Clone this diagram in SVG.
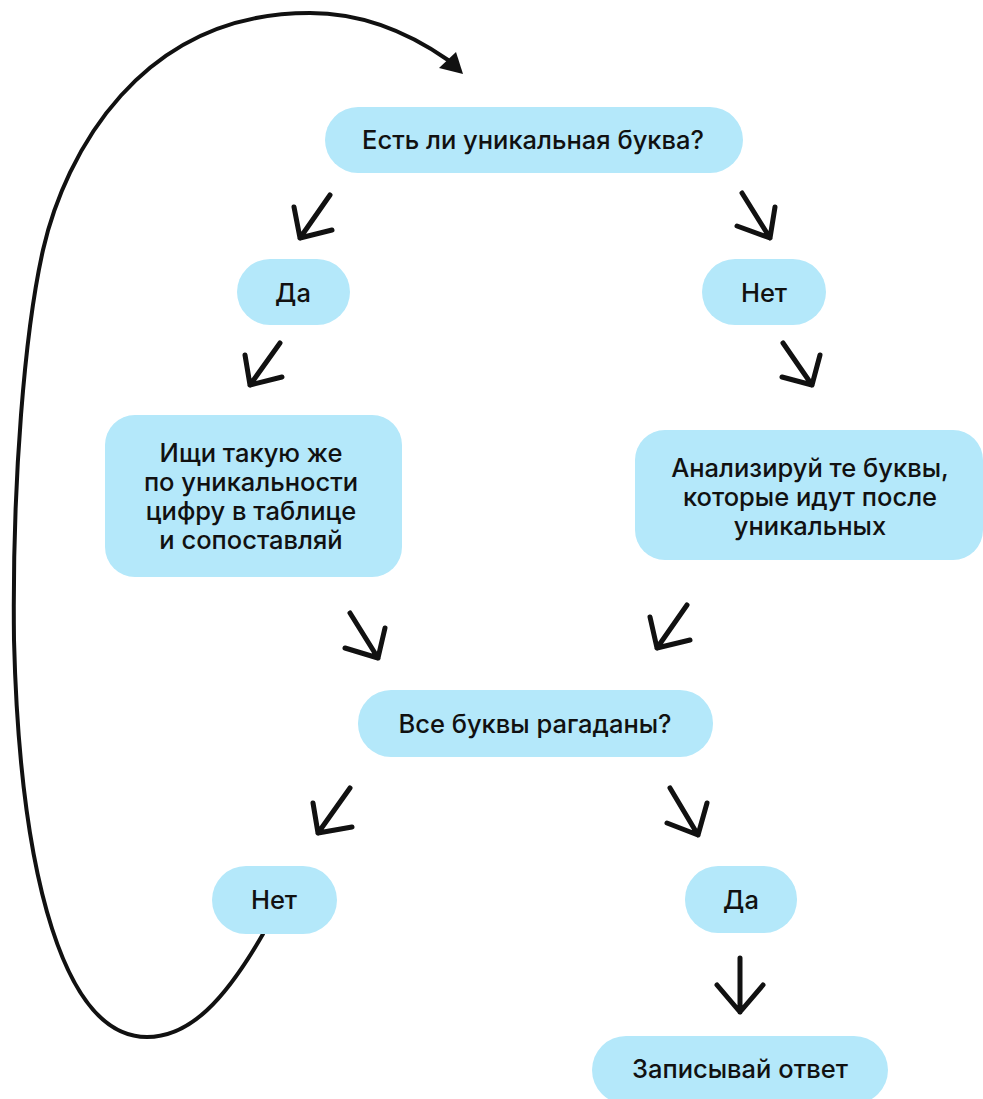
<svg xmlns="http://www.w3.org/2000/svg" width="983" height="1099" viewBox="0 0 983 1099">
<style>
.box{fill:#b4e8fa}
.t{font-family:Inter,"Liberation Sans","Noto Sans",sans-serif;font-size:25.5px;font-weight:500;fill:#111;text-anchor:middle}
.arr{fill:none;stroke:#111;stroke-width:5;stroke-linecap:round;stroke-linejoin:round}
.loop{fill:none;stroke:#111;stroke-width:4;stroke-linecap:round}
</style>
<rect width="983" height="1099" fill="#ffffff"/>
<g id="connectors">
<path class="loop" d="M263,934 C225,1000 190,1037 147,1037 C65,1037 20,880 14,640 C12,480 25,330 43,250 C65,154 140,13 310,13 C360,13 405,30 448,60"/>
<polygon points="456,52 439,68 463,74" fill="#111"/>
<path class="arr" d="M330,195 L300,238 M294,207 L300,238 L332,230"/>
<path class="arr" d="M742,193 L770,238 M737,226 L770,238 L775,207"/>
<path class="arr" d="M280,343 L250,385 M245,355 L250,385 L282,377"/>
<path class="arr" d="M783,343 L812,385 M782,377 L812,385 L820,355"/>
<path class="arr" d="M350,613 L378,658 M345,648 L378,658 L385,628"/>
<path class="arr" d="M687,605 L657,648 M650,617 L657,648 L690,640"/>
<path class="arr" d="M350,788 L318,833 M313,803 L318,833 L352,827"/>
<path class="arr" d="M670,788 L698,835 M667,823 L698,835 L707,803"/>
<path class="arr" d="M740,958 L740,1012 M717,985 L740,1012 L763,985"/>
</g>
<g id="n1"><rect class="box" x="325" y="107" width="418" height="66" rx="33"/><text class="t" x="533" y="149">Есть ли уникальная буква?</text></g>
<g id="n2"><rect class="box" x="237" y="259" width="113" height="66" rx="33"/><text class="t" x="293" y="302">Да</text></g>
<g id="n3"><rect class="box" x="702" y="259" width="124" height="66" rx="33"/><text class="t" x="764" y="302">Нет</text></g>
<g id="n4"><rect class="box" x="105" y="415" width="297" height="162" rx="30"/>
<text class="t" x="251" y="462">Ищи такую же</text>
<text class="t" x="251" y="491">по уникальности</text>
<text class="t" x="251" y="520">цифру в таблице</text>
<text class="t" x="251" y="549">и сопоставляй</text></g>
<g id="n5"><rect class="box" x="635" y="430" width="348" height="130" rx="30"/>
<text class="t" x="810" y="477">Анализируй те буквы,</text>
<text class="t" x="810" y="506">которые идут после</text>
<text class="t" x="810" y="535">уникальных</text></g>
<g id="n6"><rect class="box" x="358" y="690" width="355" height="67" rx="33"/><text class="t" x="535" y="733">Все буквы рагаданы?</text></g>
<g id="n7"><rect class="box" x="212" y="866" width="125" height="68" rx="34"/><text class="t" x="274" y="909">Нет</text></g>
<g id="n8"><rect class="box" x="685" y="866" width="112" height="67" rx="33"/><text class="t" x="741" y="909">Да</text></g>
<g id="n9"><rect class="box" x="592" y="1036" width="296" height="68" rx="34"/><text class="t" x="740" y="1078">Записывай ответ</text></g>
</svg>
